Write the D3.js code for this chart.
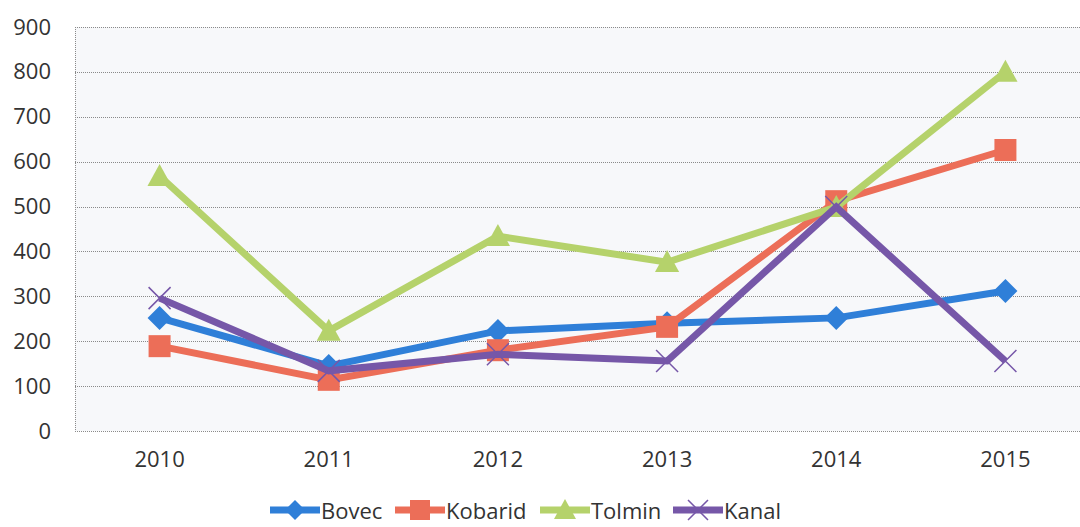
<html>
<head>
<script src="https://cdnjs.cloudflare.com/ajax/libs/d3/7.8.5/d3.min.js"></script>
<style>
  body { margin: 0; background: #fff; }
  text { font-family: "Open Sans", "Noto Sans", sans-serif; fill: #333; }
</style>
</head>
<body>
<script>
// chart data
var years = ['2010', '2011', '2012', '2013', '2014', '2015'];
var bovec = [252, 145, 223, 240, 252, 312];
var kobarid = [189, 114, 180, 232, 512, 626];
var tolmin = [568, 223, 434, 376, 499, 800];
var kanal = [296, 134, 171, 156, 499, 156];
var seriesNames = ['Bovec', 'Kobarid', 'Tolmin', 'Kanal'];
var yTicks = [0, 100, 200, 300, 400, 500, 600, 700, 800, 900];

var series = [
  {name: 'Bovec', values: bovec, color: '#2f7fd8', marker: 'diamond'},
  {name: 'Kobarid', values: kobarid, color: '#ec6e58', marker: 'square'},
  {name: 'Tolmin', values: tolmin, color: '#b5d26b', marker: 'triangle'},
  {name: 'Kanal', values: kanal, color: '#7657a8', marker: 'x'}
];

var width = 1080, height = 527;
var plotLeft = 75, plotTop = 27, plotBottom = 431, plotRight = 1090;

var svg = d3.select('body').append('svg')
  .attr('width', width)
  .attr('height', height);

var x = d3.scaleBand()
  .domain(years)
  .range([plotLeft, plotRight]);

var y = d3.scaleLinear()
  .domain([0, 900])
  .range([plotBottom, plotTop]);

// plot area background
svg.append('rect')
  .attr('x', plotLeft)
  .attr('y', plotTop)
  .attr('width', plotRight - plotLeft)
  .attr('height', plotBottom - plotTop)
  .attr('fill', '#f7f8fa');

// gridlines
svg.append('g')
  .selectAll('line')
  .data(yTicks)
  .enter().append('line')
  .attr('x1', plotLeft)
  .attr('x2', plotRight)
  .attr('y1', function(d) { return Math.round(y(d)) + 0.5; })
  .attr('y2', function(d) { return Math.round(y(d)) + 0.5; })
  .attr('stroke', '#8a8a8a')
  .attr('stroke-width', 1)
  .attr('stroke-dasharray', '1,1');

svg.append('line')
  .attr('x1', plotLeft + 0.5).attr('x2', plotLeft + 0.5)
  .attr('y1', plotTop).attr('y2', plotBottom)
  .attr('stroke', '#8a8a8a')
  .attr('stroke-dasharray', '1,1');

// y axis
var yAxis = svg.append('g')
  .attr('transform', 'translate(' + (plotLeft - 24) + ',0)')
  .call(d3.axisLeft(y).tickValues(yTicks).tickSize(0).tickPadding(0));
yAxis.select('.domain').remove();
yAxis.selectAll('text')
  .style('font-size', '22px')
  .attr('fill', '#333');

// x axis
var xAxis = svg.append('g')
  .attr('transform', 'translate(0,' + plotBottom + ')')
  .call(d3.axisBottom(x).tickSize(0).tickPadding(20));
xAxis.select('.domain').remove();
xAxis.selectAll('text')
  .style('font-size', '22px')
  .attr('fill', '#333');

function cx(i) { return x(years[i]) + x.bandwidth() / 2; }

function markerPath(type, s) {
  if (type === 'diamond') return 'M0,' + (-s) + 'L' + s + ',0L0,' + s + 'L' + (-s) + ',0Z';
  if (type === 'square') return 'M' + (-s) + ',' + (-s) + 'H' + s + 'V' + s + 'H' + (-s) + 'Z';
  if (type === 'triangle') return 'M0,' + (-s * 1.1) + 'L' + (s * 1.1) + ',' + (s * 0.9) + 'L' + (-s * 1.1) + ',' + (s * 0.9) + 'Z';
  return 'M' + (-s) + ',' + (-s) + 'L' + s + ',' + s + 'M' + s + ',' + (-s) + 'L' + (-s) + ',' + s;
}

var line = d3.line()
  .x(function(d, i) { return cx(i); })
  .y(function(d) { return y(d); });

series.forEach(function(s) {
  var g = svg.append('g');
  g.append('path')
    .attr('d', line(s.values))
    .attr('fill', 'none')
    .attr('stroke', s.color)
    .attr('stroke-width', 7)
    .attr('stroke-linejoin', 'miter');
  g.selectAll('.mk')
    .data(s.values)
    .enter().append('path')
    .attr('class', 'mk')
    .attr('transform', function(d, i) { return 'translate(' + cx(i) + ',' + y(d) + ')'; })
    .attr('d', markerPath(s.marker, s.marker === 'diamond' ? 12 : 11))
    .attr('fill', s.marker === 'x' ? 'none' : s.color)
    .attr('stroke', s.color)
    .attr('stroke-width', s.marker === 'x' ? 1.5 : 0);
});

// legend
var legendX = [270, 395, 540, 673];
var legend = svg.append('g');
series.forEach(function(s, i) {
  var lg = legend.append('g').attr('transform', 'translate(' + legendX[i] + ',510)');
  lg.append('line')
    .attr('x1', 0).attr('x2', 50)
    .attr('stroke', s.color)
    .attr('stroke-width', 7);
  lg.append('path')
    .attr('transform', 'translate(25,0)')
    .attr('d', markerPath(s.marker, 10))
    .attr('fill', s.marker === 'x' ? 'none' : s.color)
    .attr('stroke', s.color)
    .attr('stroke-width', s.marker === 'x' ? 1.5 : 0);
  lg.append('text')
    .attr('x', 51)
    .attr('y', 9)
    .style('font-size', '22px')
    .text(seriesNames[i]);
});
</script>
</body>
</html>
